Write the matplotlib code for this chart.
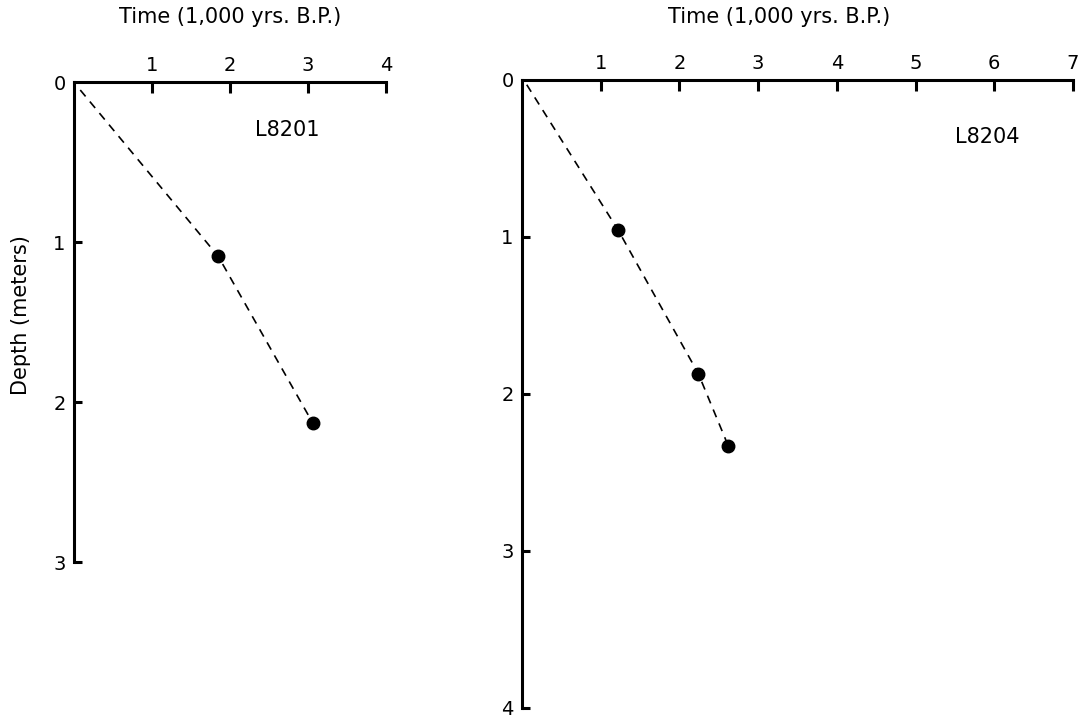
import matplotlib
matplotlib.use("Agg")
import matplotlib.pyplot as plt

# core L8201
l8201_time = [1.85, 3.06]
l8201_depth = [1.09, 2.13]
l8201_line_time = [0.08, 1.85, 3.06]
l8201_line_depth = [0.05, 1.09, 2.13]

# core L8204
l8204_time = [1.22, 2.24, 2.62]
l8204_depth = [0.955, 1.87, 2.33]
l8204_line_time = [0.06, 1.22, 2.24, 2.62]
l8204_line_depth = [0.03, 0.955, 1.87, 2.33]

left_xticks = [1, 2, 3, 4]
left_yticks = [0, 1, 2, 3]
right_xticks = [1, 2, 3, 4, 5, 6, 7]
right_yticks = [0, 1, 2, 3, 4]

title = "Time (1,000 yrs. B.P.)"
fs = 15
tick_fs = 14
lw = 2.2

fig = plt.figure(figsize=(10.79, 7.22), dpi=100)
ax1 = fig.add_axes([0.0686, 0.2216, 0.2891, 0.6648])
ax2 = fig.add_axes([0.4838, 0.0194, 0.5106, 0.8698])


def style_axis(ax, xmax, ymax, xticks, yticks):
    ax.set_xlim(0, xmax)
    ax.set_ylim(ymax, 0)
    ax.spines["right"].set_visible(False)
    ax.spines["bottom"].set_visible(False)
    ax.spines["top"].set_linewidth(lw)
    ax.spines["left"].set_linewidth(lw)
    ax.spines["top"].set_capstyle("projecting")
    ax.spines["left"].set_capstyle("projecting")
    ax.xaxis.tick_top()
    ax.set_xticks(xticks)
    ax.set_xticklabels([str(t) for t in xticks])
    ax.set_yticks(yticks)
    ax.set_yticklabels([str(t) for t in yticks])
    ax.tick_params(axis="x", direction="in", length=8, width=lw, pad=5, labelsize=tick_fs)
    ax.tick_params(axis="y", direction="in", length=6, width=lw, pad=6, labelsize=tick_fs)
    ax.yaxis.get_major_ticks()[0].tick1line.set_visible(False)
    ax.patch.set_visible(False)


style_axis(ax1, 4, 3, left_xticks, left_yticks)
style_axis(ax2, 7, 4, right_xticks, right_yticks)

ax1.plot(l8201_line_time, l8201_line_depth, color="black", lw=1.2, dashes=(5, 4), clip_on=False)
ax1.plot(l8201_time, l8201_depth, "o", color="black", markersize=9, clip_on=False)
ax2.plot(l8204_line_time, l8204_line_depth, color="black", lw=1.2, dashes=(5, 4), clip_on=False)
ax2.plot(l8204_time, l8204_depth, "o", color="black", markersize=9, clip_on=False)

ax1.text(2.32, 0.30, "L8201", fontsize=fs, va="center", ha="left")
ax2.text(5.5, 0.36, "L8204", fontsize=fs, va="center", ha="left")

ax1.text(0.5, 1.135, title, transform=ax1.transAxes, fontsize=fs, ha="center", va="center")
ax2.text(0.466, 1.10, title, transform=ax2.transAxes, fontsize=fs, ha="center", va="center")

ax1.set_ylabel("Depth (meters)", fontsize=fs)
ax1.yaxis.set_label_coords(-0.138, 0.515)

fig.savefig("out.png", dpi=100)
